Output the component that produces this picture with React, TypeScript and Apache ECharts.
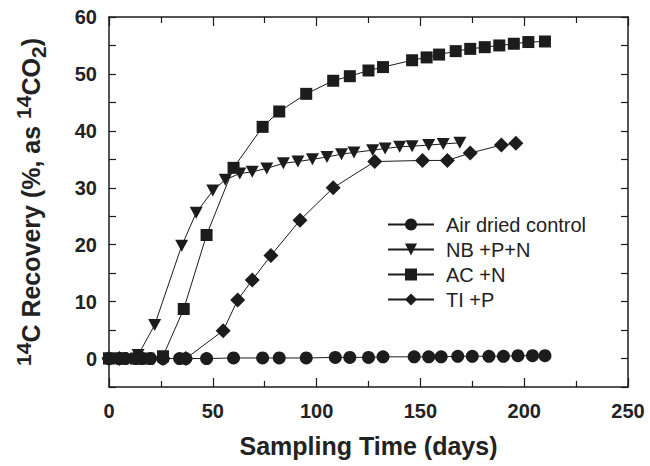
import React, { useEffect, useRef } from 'react';
import * as echarts from 'echarts';

const FONT = "'Liberation Sans', Arial, Helvetica, sans-serif";

const controlDays = [0, 5, 8, 13, 16, 20, 26, 34, 37, 47, 60, 74, 82, 95, 109, 116, 125, 132, 147, 154, 160, 168, 175, 183, 190, 197, 204, 210];
const controlVals = [0, 0, 0, 0, 0, 0, 0, 0, 0, 0, 0.1, 0.1, 0.1, 0.1, 0.2, 0.2, 0.2, 0.3, 0.3, 0.3, 0.3, 0.4, 0.4, 0.4, 0.4, 0.5, 0.5, 0.5];

const nbDays = [0, 6, 14, 22, 35, 42, 50, 56, 63, 69, 76, 84, 91, 98, 105, 112, 118, 127, 133, 140, 146, 154, 161, 169];
const nbVals = [0, 0, 0.6, 5.9, 19.8, 25.6, 29.5, 31.4, 32.5, 32.8, 33.4, 34.3, 34.6, 35.0, 35.4, 35.9, 36.2, 36.6, 36.9, 37.2, 37.3, 37.5, 37.7, 37.9];

const acDays = [0, 6, 13, 19, 26, 36, 47, 60, 74, 82, 95, 108, 116, 125, 132, 146, 153, 159, 167, 174, 181, 188, 195, 202, 210];
const acVals = [0, 0, 0, 0, 0.4, 8.7, 21.7, 33.5, 40.7, 43.4, 46.5, 48.8, 49.6, 50.6, 51.2, 52.4, 52.9, 53.4, 54.0, 54.4, 54.7, 55.0, 55.3, 55.6, 55.7];

const tiDays = [0, 5, 26, 37, 55, 62, 69, 78, 92, 108, 128, 151, 163, 174, 189, 196];
const tiVals = [0, 0, 0, 0, 4.9, 10.3, 13.8, 18.1, 24.3, 30.0, 34.6, 34.8, 34.8, 36.1, 37.5, 37.8];

const seriesNames = ['Air dried control', 'NB +P+N', 'AC +N', 'TI +P'];

const zip = (xs: number[], ys: number[]) => xs.map((x, i) => [x, ys[i]]);

export default function App() {
  const ref = useRef<HTMLDivElement>(null);
  useEffect(() => {
    if (!ref.current) return;
    const chart = echarts.init(ref.current, undefined, { renderer: 'svg' });
    const ink = '#1c1c1c';
    const axisLine = { show: true, onZero: false, lineStyle: { color: ink, width: 1.5 } };
    const mkSeries = (name: string, data: number[][], symbol: string, size: number | number[], rotate = 0) => ({
      name,
      type: 'line',
      data,
      symbol,
      symbolSize: size,
      symbolRotate: rotate,
      showAllSymbol: true,
      lineStyle: { color: ink, width: 1 },
      itemStyle: { color: ink, borderWidth: 0 },
      xAxisIndex: 0,
      yAxisIndex: 0,
    });
    chart.setOption({
      animation: false,
      backgroundColor: '#ffffff',
      grid: { left: 109, right: 22, top: 17, bottom: 79, containLabel: false },
      legend: {
        orient: 'vertical',
        left: 387,
        top: 214,
        padding: 0,
        itemWidth: 46,
        itemHeight: 15,
        itemGap: 4,
        data: seriesNames,
        textStyle: { fontFamily: FONT, fontSize: 20, color: '#222', lineHeight: 21, padding: [0, 0, 0, 7] },
      },
      xAxis: [
        {
          type: 'value',
          position: 'bottom',
          min: 0,
          max: 250,
          interval: 50,
          axisLine,
          axisTick: { show: true, inside: true, length: 9, lineStyle: { color: ink, width: 1.2 } },
          minorTick: { show: true, splitNumber: 2, length: 6, lineStyle: { color: ink, width: 1.2 } },
          splitLine: { show: false },
          axisLabel: { fontFamily: FONT, fontSize: 20, fontWeight: 'bold', color: '#222', margin: 14 },
          name: 'Sampling Time (days)',
          nameLocation: 'middle',
          nameGap: 46,
          nameTextStyle: { fontFamily: FONT, fontSize: 25, fontWeight: 'bold', color: '#222' },
        },
        {
          type: 'value',
          position: 'top',
          min: 0,
          max: 250,
          interval: 50,
          axisLine,
          axisTick: { show: true, inside: true, length: 9, lineStyle: { color: ink, width: 1.2 } },
          minorTick: { show: true, splitNumber: 2, length: 6, lineStyle: { color: ink, width: 1.2 } },
          splitLine: { show: false },
          axisLabel: { show: false },
        },
      ],
      yAxis: [
        {
          type: 'value',
          position: 'left',
          min: -5,
          max: 60,
          interval: 5,
          axisLine,
          axisTick: { show: true, inside: true, length: 7, lineStyle: { color: ink, width: 1.2 } },
          splitLine: { show: false },
          axisLabel: {
            fontFamily: FONT,
            fontSize: 20,
            fontWeight: 'bold',
            color: '#222',
            margin: 12,
            formatter: (v: number) => (v >= 0 && v % 10 === 0 ? String(v) : ''),
          },
          name: '{s|14}{n|C Recovery (%, as }{s|14}{n|CO}{b|2}{n|)}',
          nameLocation: 'middle',
          nameRotate: 90,
          nameGap: 60,
          nameTextStyle: {
            rich: {
              n: { fontFamily: FONT, fontSize: 25, fontWeight: 'bold', color: '#222', lineHeight: 36, verticalAlign: 'middle' },
              s: { fontFamily: FONT, fontSize: 21, fontWeight: 'bold', color: '#222', lineHeight: 21, verticalAlign: 'top' },
              b: { fontFamily: FONT, fontSize: 21, fontWeight: 'bold', color: '#222', lineHeight: 21, verticalAlign: 'bottom' },
            },
          },
        },
        {
          type: 'value',
          position: 'right',
          min: -5,
          max: 60,
          interval: 5,
          axisLine,
          axisTick: { show: true, inside: true, length: 7, lineStyle: { color: ink, width: 1.2 } },
          splitLine: { show: false },
          axisLabel: { show: false },
        },
      ],
      series: [
        mkSeries(seriesNames[0], zip(controlDays, controlVals), 'circle', 13),
        mkSeries(seriesNames[1], zip(nbDays, nbVals), 'triangle', [13, 12], 180),
        mkSeries(seriesNames[2], zip(acDays, acVals), 'rect', 12),
        mkSeries(seriesNames[3], zip(tiDays, tiVals), 'diamond', [15, 15]),
      ],
    });
    return () => chart.dispose();
  }, []);
  return <div ref={ref} style={{ position: 'fixed', left: 0, top: 0, width: 650, height: 466, background: '#fff' }} />;
}
